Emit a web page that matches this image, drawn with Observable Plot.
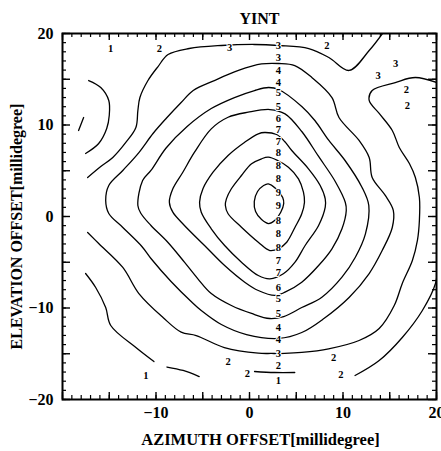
<!DOCTYPE html>
<html><head><meta charset="utf-8">
<script src="https://cdn.jsdelivr.net/npm/d3@7"></script>
<script src="https://cdn.jsdelivr.net/npm/@observablehq/plot@0.6"></script>
<style>body{margin:0;background:#fff}</style>
</head><body><div id="chart"></div>
<script>
const title = "YINT";
const xLabel = "AZIMUTH OFFSET[millidegree]";
const yLabel = "ELEVATION OFFSET[millidegree]";
const xTickLabels = [-10, 0, 10, 20];
const yTickLabels = [-20, -10, 0, 10, 20];
const minorTicks = d3.range(-20, 21, 1);
const majorTicks = d3.range(-20, 21, 5);

// closed contour loops: [azimuth offset, elevation offset]
const level9 = [[2.01,3.57],[2.8,3.06],[3.55,2.08],[3.66,1.42],[3.33,0.44],[2.69,-0.44],[2.04,-0.77],[1.29,-0.33],[0.65,0.55],[0.51,1.64],[0.86,2.73],[1.51,3.39]];
const level8 = [[2.01,6.48],[3.01,6.12],[4.16,5.39],[5.24,4.12],[5.77,2.66],[5.88,1.56],[5.59,0.3],[4.87,-1.17],[3.98,-2.81],[3.12,-3.5],[2.18,-3.72],[0.94,-2.81],[-0.86,-1.17],[-2.29,0.3],[-2.58,1.2],[-2.47,1.93],[-1.94,3.03],[-0.86,4.48],[0.22,5.76],[1.29,6.31]];
const level7 = [[1.61,9.18],[2.9,8.96],[3.76,8.2],[4.52,7.21],[6.31,5.21],[7.56,3.39],[8.1,1.93],[8.1,1.02],[7.39,-0.98],[5.95,-3.17],[4.87,-4.99],[3.62,-6.26],[2.18,-6.81],[0.94,-6.45],[-0.86,-4.99],[-2.66,-3.17],[-4.09,-1.34],[-5.16,0.47],[-5.34,1.56],[-4.98,3.03],[-3.9,4.84],[-2.29,6.67],[-0.51,8.12],[0.94,9.04]];
const level6 = [[-8.57,1.56],[-8.2,3.03],[-7.13,4.84],[-5.88,7.03],[-4.09,9.58],[-2.29,10.85],[-0.14,11.4],[2.18,11.69],[3.8,11.22],[5.59,9.29],[7.39,6.56],[9.17,3.83],[10.25,1.53],[10.35,0.66],[9.89,-1.34],[8.82,-3.53],[7.39,-5.36],[5.59,-7.18],[3.8,-8.27],[2.72,-8.63],[0.94,-8.09],[-0.51,-7.18],[-2.66,-5.36],[-4.81,-3.17],[-6.96,-0.98],[-8.2,0.47]];
const level5 = [[-11.94,1.2],[-11.43,3.93],[-10.54,5.03],[-8.92,7.49],[-6.67,9.84],[-4.09,11.8],[-1.61,13.0],[0.54,13.77],[2.04,14.1],[3.12,13.88],[5.59,12.02],[6.99,10.49],[8.49,8.31],[10.22,6.12],[12.04,3.17],[12.76,1.2],[12.4,-1.89],[11.32,-4.45],[9.89,-6.63],[7.74,-8.82],[5.59,-9.95],[3.66,-10.93],[2.15,-11.15],[0.22,-10.6],[-1.94,-9.73],[-4.09,-8.42],[-5.52,-6.81],[-6.96,-4.99],[-8.74,-2.81],[-10.54,-0.98],[-11.61,0.33]];
const level4 = [[-15.38,1.75],[-15.05,3.39],[-13.55,5.03],[-11.83,6.99],[-10.32,9.07],[-8.92,10.71],[-7.31,12.46],[-6.02,13.77],[-3.76,14.86],[-1.18,15.96],[1.29,16.67],[3.12,16.72],[4.84,16.5],[6.67,15.19],[8.82,13.0],[9.57,10.82],[11.72,8.31],[12.8,6.45],[13.12,4.26],[14.52,2.3],[15.38,0.66],[15.27,-1.2],[14.19,-3.72],[12.8,-6.23],[10.65,-8.85],[7.96,-11.15],[5.59,-12.68],[3.12,-13.33],[-0.32,-12.9],[-3.01,-11.8],[-5.16,-10.27],[-6.24,-9.29],[-8.39,-7.1],[-10.54,-4.59],[-11.51,-3.28],[-13.55,-1.2],[-15.05,0.33]];

// open contour pieces (ending at the edge of the scanned area)
const level3a = [[-17.31,4.26],[-15.91,5.46],[-14.62,6.45],[-13.23,8.09],[-12.15,9.73],[-11.94,11.58],[-11.72,13.0],[-10.86,14.86],[-9.78,16.39],[-8.71,17.7],[-6.45,18.36],[-3.01,18.69],[0.54,18.8],[3.12,18.69],[6.34,18.36],[8.49,17.38],[10.65,15.96],[12.8,18.14],[14.3,20.11],[14.52,20.44]];
const level3b = [[20.32,14.54],[17.74,15.19],[15.59,14.64],[13.12,13.77],[12.8,12.68],[13.87,11.26],[15.27,9.4],[16.02,7.54],[17.1,5.79],[17.74,4.26],[18.17,2.08],[18.17,-0.44],[17.96,-2.62],[17.42,-4.81],[16.34,-7.32],[15.48,-9.73],[13.87,-12.24],[11.72,-13.55],[8.46,-14.46],[5.59,-14.86],[3.76,-14.97],[2.37,-14.97],[0.94,-14.94],[-2.69,-14.32],[-5.7,-13.01],[-7.31,-12.64],[-9.25,-11.04],[-11.83,-8.42],[-13.55,-5.57],[-16.13,-2.95],[-17.31,-1.75]];
const level2a = [[-17.53,-6.23],[-16.45,-7.76],[-15.38,-9.95],[-14.84,-11.91],[-12.15,-14.32],[-10.22,-15.85]];
const level2b = [[-8.82,-16.45],[-7.1,-16.83],[-5.38,-17.49]];
const level2c = [[0.54,-16.94],[2.69,-17.05],[4.84,-17.05]];
const level2d = [[11.29,-17.38],[13.87,-15.74],[16.34,-13.22],[18.49,-10.27],[19.89,-7.32],[20.11,-5.36]];
const level2e = [[-17.2,14.86],[-15.91,14.1],[-15.05,12.68],[-15.0,11.04],[-15.27,9.62],[-16.13,7.98],[-17.53,6.89]];
const level1a = [[-18.28,9.4],[-17.74,10.82]];

// contour labels
const columnLabelX = 3.1;
const columnLabelValues = [3,3,4,4,5,5,6,7,7,8,8,8,9,9,8,8,8,7,7,6,5,5,4,4,3,2,1];
const columnLabelY = [18.69,17.32,15.96,14.6,13.5,11.99,10.75,9.5,8.2,6.94,5.57,4.12,2.57,1.2,-0.44,-1.89,-3.36,-4.81,-6.17,-7.73,-8.99,-10.63,-12.1,-13.44,-15.01,-16.34,-17.89];
const otherLabels = [[-14.84,18.33,"1"],[-9.65,18.33,"2"],[-2.12,18.5,"3"],[8.28,18.69,"2"],[15.62,16.69,"3"],[13.76,15.41,"3"],[16.77,13.85,"2"],[16.88,12.13,"2"],[-2.29,-15.85,"2"],[-0.22,-17.19,"2"],[-11.08,-17.38,"1"],[9.0,-15.46,"2"],[9.78,-17.3,"2"]];

const closedContours = [[9, level9],[8, level8],[7, level7],[6, level6],[5, level5],[4, level4]];
const openContours = [[3, level3a],[3, level3b],[2, level2a],[2, level2b],[2, level2c],[2, level2d],[2, level2e],[1, level1a]];

const toRows = (list, prefix) => list.flatMap(([level, pts], i) => pts.map(([x, y]) => ({x, y, level, id: prefix + i})));
const closedRows = toRows(closedContours, "c");
const openRows = toRows(openContours, "o");
const labelRows = columnLabelValues.map((v, i) => ({x: columnLabelX, y: columnLabelY[i], text: String(v)}))
  .concat(otherLabels.map(([x, y, text]) => ({x, y, text})));

const W = 441, H = 451, mT = 33, mR = 5, mB = 52, mL = 62;
const fW = W - mL - mR, fH = H - mT - mB;
const font = "'Liberation Serif', 'Times New Roman', serif";

const chart = Plot.plot({
  width: W, height: H, marginTop: mT, marginRight: mR, marginBottom: mB, marginLeft: mL,
  style: {fontFamily: font, fontSize: "16px", fontWeight: "bold", background: "white", color: "black"},
  x: {domain: [-20, 20], ticks: xTickLabels, tickSize: 0, tickPadding: 7, label: null},
  y: {domain: [-20, 20], ticks: yTickLabels, tickSize: 0, tickPadding: 9, label: null},
  marks: [
    Plot.line(closedRows, {x: "x", y: "y", z: "id", curve: "catmull-rom-closed", stroke: "black", strokeWidth: 1.3}),
    Plot.line(openRows, {x: "x", y: "y", z: "id", curve: "catmull-rom", stroke: "black", strokeWidth: 1.3, clip: true}),
    Plot.tickX(minorTicks, {x: d => d, insetTop: fH - 4, stroke: "black", strokeWidth: 1.2}),
    Plot.tickX(minorTicks, {x: d => d, insetBottom: fH - 4, stroke: "black", strokeWidth: 1.2}),
    Plot.tickY(minorTicks, {y: d => d, insetRight: fW - 4, stroke: "black", strokeWidth: 1.2}),
    Plot.tickY(minorTicks, {y: d => d, insetLeft: fW - 4, stroke: "black", strokeWidth: 1.2}),
    Plot.tickX(majorTicks, {x: d => d, insetTop: fH - 7, stroke: "black", strokeWidth: 1.4}),
    Plot.tickX(majorTicks, {x: d => d, insetBottom: fH - 7, stroke: "black", strokeWidth: 1.4}),
    Plot.tickY(majorTicks, {y: d => d, insetRight: fW - 8, stroke: "black", strokeWidth: 1.4}),
    Plot.tickY(majorTicks, {y: d => d, insetLeft: fW - 8, stroke: "black", strokeWidth: 1.4}),
    Plot.frame({stroke: "black", strokeWidth: 2}),
    Plot.text(labelRows, {x: "x", y: "y", text: "text", fontSize: 10.5, fontWeight: "bold", fontFamily: font, fill: "black", stroke: "white", strokeWidth: 2}),
    Plot.text([title], {text: d => d, frameAnchor: "top", textAnchor: "middle", lineAnchor: "middle", dx: 10, dy: -15, fontSize: 16, fontWeight: "bold", fontFamily: font, fill: "black"}),
    Plot.text([xLabel], {text: d => d, frameAnchor: "bottom", textAnchor: "middle", lineAnchor: "middle", dx: 11, dy: 40, fontSize: 16.5, fontWeight: "bold", fontFamily: font, fill: "black"}),
    Plot.text([yLabel], {text: d => d, frameAnchor: "left", textAnchor: "middle", lineAnchor: "middle", rotate: -90, dx: -46, dy: 10, fontSize: 16, fontWeight: "bold", fontFamily: font, fill: "black"})
  ]
});
document.getElementById("chart").append(chart);
</script>
</body></html>
